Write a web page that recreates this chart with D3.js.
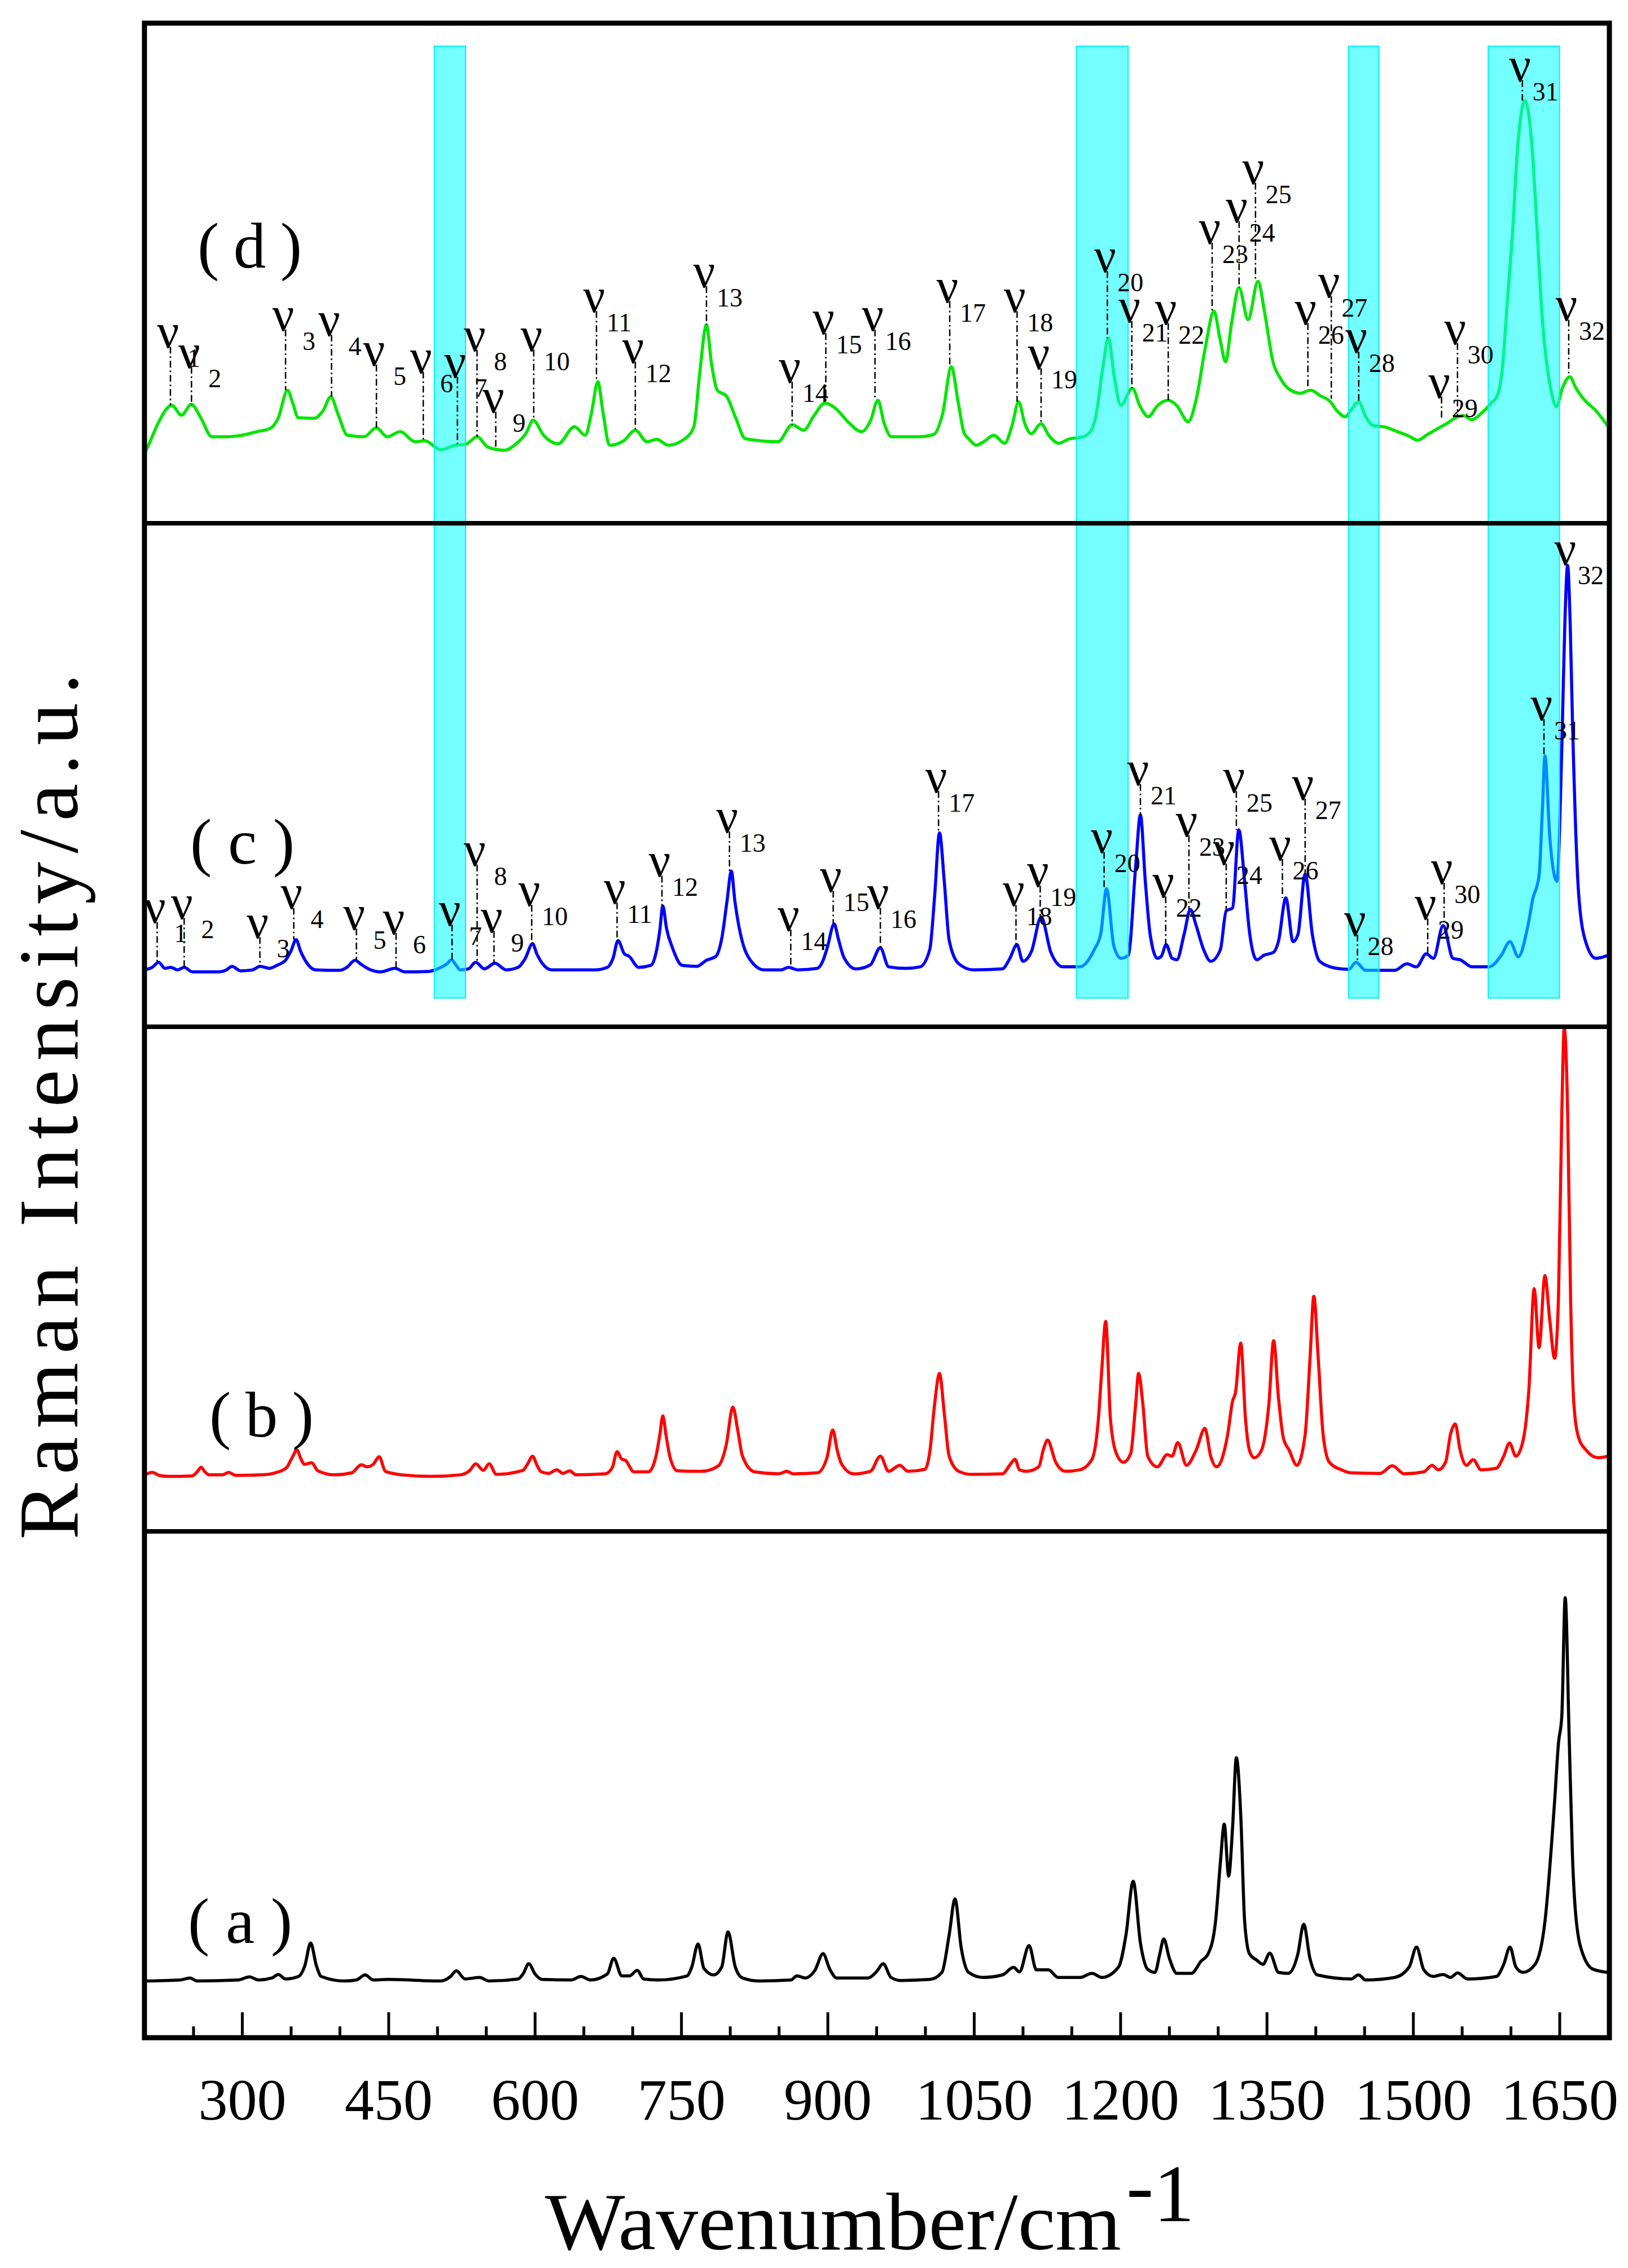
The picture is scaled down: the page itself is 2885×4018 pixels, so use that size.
<!DOCTYPE html>
<html lang="en">
<head>
    <meta charset="UTF-8">
    <title>Raman spectra</title>
    <script src="https://d3js.org/d3.v7.min.js"></script>
    <style>
        body { margin: 0; background: #fff; }
        text { font-family: "Liberation Serif", "Times New Roman", serif; fill: #000; }
    </style>
</head>
<body>
    <svg width="2885" height="4018"></svg>
    <script>
        // x axis ticks (cm-1)
        const majorTicks = [300, 450, 600, 750, 900, 1050, 1200, 1350, 1500, 1650];
        const minorTicks = d3.range(250, 1701, 50).filter(v => !majorTicks.includes(v));

        // panel letters, bottom to top
        const panelNames = ["(a)", "(b)", "(c)", "(d)"];

        // highlighted regions [from, to] in cm-1
        const bands = [[497, 529], [1155, 1208], [1434, 1465], [1577, 1650]];

        // spectra, [wavenumber, intensity] (intensity in % of panel height)
        const specA = [[200,11.2],[236.8,11.4],[246.6,11.8],[254.1,11.2],[296.1,11.4],[307.5,12.0],[316.9,11.4],[330.7,11.8],[337.1,12.5],[344.6,11.6],[357.9,12.1],[364.3,14.2],[370.3,18.7],[376.2,14.2],[381.1,12.1],[404.9,11.2],[417,11.4],[426.1,12.4],[434.5,11.4],[449.4,11.5],[503.8,11.2],[513.7,12.1],[519.6,13.2],[528.5,11.6],[543.3,11.9],[553.2,11.2],[582.9,11.6],[588,12.6],[593.8,14.6],[600.2,12.6],[607.6,11.5],[637.3,11.4],[647.2,12.1],[657.1,11.4],[674.4,12.6],[680.8,15.7],[689.2,12.2],[697,12.2],[705,13.3],[711.5,11.6],[726.3,11.4],[756,12.2],[760.9,14.0],[767.3,18.5],[773.3,13.7],[783.2,12.4],[791.6,14.0],[798,20.9],[805.4,14.0],[812.8,11.8],[830.2,11.2],[862.3,11.4],[868.7,12.2],[877.1,11.8],[887,13.3],[895.4,16.6],[901.9,13.7],[909.3,11.8],[941.4,11.8],[950,13],[957,14.6],[965,11.9],[975,11.3],[1004.8,11.5],[1017.2,12.9],[1024.6,20.3],[1030.6,27.4],[1037,17.7],[1044.5,12.9],[1059.4,11.9],[1079.2,12.4],[1090.6,13.9],[1096.6,13.0],[1106.5,18.2],[1113.9,13.4],[1126.3,13.4],[1136.3,11.9],[1158.6,11.9],[1171,12.7],[1181,11.9],[1198.3,14.0],[1205.8,20.3],[1213.2,30.9],[1220.6,18.7],[1228.1,13.5],[1235.5,12.9],[1240.5,16.6],[1244.5,19.5],[1250.4,15.6],[1257.9,12.7],[1272.8,12.7],[1282.7,15.1],[1290.1,16.6],[1297.6,23.0],[1302.5,34.5],[1306.5,42.2],[1311,31.9],[1315,41.4],[1318.9,55.3],[1323.4,44.0],[1327.4,23.0],[1332.3,16.6],[1339.8,15.3],[1346.2,14.5],[1353.2,16.7],[1362.1,12.9],[1372,12.7],[1382,16.6],[1387.9,22.4],[1394.4,15.6],[1401.8,12.4],[1436.5,11.6],[1444,12.4],[1451.4,11.4],[1481.2,11.9],[1496.1,14.0],[1503.5,17.9],[1511,13.4],[1520.9,12.1],[1530.8,12.5],[1538.3,11.9],[1545.7,12.8],[1555.6,11.6],[1585.4,12.1],[1592.9,14.5],[1599.3,17.9],[1605.3,14.0],[1612.7,12.9],[1625.1,14.5],[1635.1,22.9],[1645,46.6],[1649,58.2],[1652.4,63.5],[1655.9,86.9],[1659.9,59.8],[1663.3,36.1],[1667.3,23.0],[1674.8,16.1],[1684.7,13.5],[1699.6,12.9]];

        const specB = [[200,11.2],[208,11.7],[215,11.1],[224.4,10.9],[249,11.0],[254,11.8],[258,12.7],[262,11.8],[266.4,11.2],[280,11.2],[286.2,11.7],[293.6,11.1],[320.8,11.2],[335.7,11.7],[345.5,12.6],[351,14.5],[356.4,16.1],[360,14.5],[364,13.3],[371.3,13.6],[377.7,12.0],[395,11.2],[412.3,11.6],[422.2,13.2],[428,12.8],[434.5,13.3],[440.5,14.8],[446.9,11.9],[464.2,11.2],[493.9,10.9],[523.6,11.2],[533.5,12.1],[539.4,13.4],[547.3,12.1],[553.2,13.4],[560.6,11.3],[587.8,12.1],[593,13.5],[597.7,14.9],[602,13.2],[606.6,11.8],[614,11.5],[622.5,12.2],[628.9,11.5],[635.8,12.0],[642.2,11.2],[671.9,11.4],[679.3,12.6],[684.3,15.8],[689.2,14.3],[692.7,14.1],[701.6,11.8],[716.4,11.8],[723.8,14.6],[728,19],[731.2,22.9],[734.5,19],[738.7,14.6],[746.1,12.0],[770.8,11.9],[788.1,13.0],[796,17],[803,24.6],[808,20],[812.8,14.9],[825.2,11.8],[850,11.4],[858.4,11.9],[864.8,11.4],[889.5,11.6],[899.4,14.6],[905.3,20.1],[910,16],[914.2,13.4],[926.6,11.4],[943.9,11.9],[954.1,14.9],[962.6,11.9],[974,13.1],[982.4,11.9],[999.8,12.3],[1004.8,15.8],[1009.7,25.2],[1014.7,31.3],[1019.6,23.4],[1024.6,14.9],[1034.5,11.9],[1047,11.3],[1079.2,11.4],[1086.6,13.1],[1092.1,14.3],[1096.6,12.2],[1104,11.9],[1116.4,12.8],[1121.4,16.4],[1125.4,18.1],[1133.8,13.7],[1143.7,11.9],[1158.6,12.2],[1171,14.3],[1177.5,22.2],[1181,32],[1185,41.6],[1189.9,22.2],[1195.8,15.5],[1203.3,13.7],[1210.7,15.5],[1215.7,25.2],[1218.7,31.3],[1223.1,25.2],[1228.1,14.9],[1238,12.8],[1248,15.2],[1253,14.9],[1258.9,17.6],[1267.8,13.1],[1277.7,16.1],[1286.7,20.4],[1292.6,14.9],[1298.6,12.8],[1310,19.2],[1315,25.8],[1318,27.5],[1323.4,37.3],[1328.3,22.2],[1332.3,16.1],[1337.3,14.6],[1344.7,16.1],[1352.2,25.2],[1357.1,37.8],[1362.1,26.4],[1367.1,18.5],[1373,16.1],[1380.9,13.1],[1389.4,19.2],[1394.4,34.3],[1398.3,46.6],[1402.8,34.3],[1407.8,19.2],[1414.2,13.7],[1426.6,12.2],[1436.5,11.6],[1466.3,11.5],[1478.7,13.0],[1491.1,11.4],[1511,11.8],[1519.4,13.1],[1525.9,12.2],[1533.3,13.7],[1538.3,19.2],[1543.2,21.3],[1548.2,16.1],[1554.7,13.1],[1561.6,14.2],[1569.6,12.2],[1585.2,12.5],[1592.9,14.9],[1598.8,17.5],[1605.3,14.9],[1612.7,18.0],[1618.7,28.2],[1624.1,48.1],[1629.1,36.4],[1635.1,50.7],[1640,42],[1645,34.3],[1649,46.4],[1652.4,82.8],[1654.9,99.8],[1658.4,82.8],[1661.4,46.4],[1664.8,25.2],[1669.8,18.5],[1677.3,16.1],[1689.6,14.6],[1700,14.9]];

        const specC = [[200,11.3],[208,11.8],[214.5,12.8],[221,11.6],[227,11.8],[234,11.3],[240.7,11.8],[249,10.9],[276,10.9],[284,11.3],[289.7,12.0],[298.6,11.1],[311,11.3],[318.3,12.0],[328,11.6],[335.7,12.2],[344.5,13.2],[350,15],[355.4,17.3],[360,15],[365.3,13.0],[375.2,11.3],[400,11.2],[407.4,11.8],[415.8,13.2],[422,12.4],[429.6,11.5],[442,10.9],[456.8,11.6],[466.7,10.9],[491.4,11.0],[503.8,11.8],[510,12.5],[514.7,13.3],[519,12.3],[523.6,11.3],[532,11.5],[539.4,12.8],[548.3,11.5],[559.2,12.6],[570.5,11.3],[582.9,11.8],[590,13.5],[597.7,16.5],[602,14.5],[607.6,12.6],[617.5,11.3],[662,11.3],[674.4,11.8],[680,13.5],[685.3,17.1],[691.7,14.5],[696.6,14.0],[706.5,11.8],[718.9,12.2],[724,14.5],[728,19],[731.2,24.0],[735,19.5],[741.2,15.6],[751,12.2],[765.9,12.0],[775.8,13.2],[785.6,14.0],[792,18],[797,25],[801.4,30.9],[805,25],[809.4,19.7],[814,16],[820.3,13.4],[835.1,11.3],[852.4,11.3],[859.8,11.8],[869.7,11.3],[889.5,11.6],[895,13],[899.4,15.5],[906.8,20.4],[911,17.5],[916.7,13.8],[929,11.5],[943.9,12.3],[954,15.7],[962.6,11.9],[980,11.6],[994.8,11.9],[1004.8,15.4],[1009.7,25.9],[1014.7,38.5],[1019.6,28.9],[1024.6,17.2],[1034.5,12.5],[1049.4,11.3],[1079.2,11.5],[1086.6,13.5],[1094.1,16.3],[1100.1,13.0],[1109,15],[1118.9,21.8],[1128.8,14.8],[1141.2,11.9],[1158.6,11.9],[1173.5,15.4],[1180,18.5],[1185.9,27.4],[1193.4,16.0],[1200.8,13.6],[1208.2,14.2],[1215.7,31.8],[1220.6,42.1],[1225.6,28.9],[1230.6,18.3],[1238,13.6],[1242,14.0],[1247,16.3],[1253,13.6],[1257.9,13.3],[1265.3,18.3],[1271.8,23.3],[1277.7,20.1],[1285.2,15.4],[1292.6,13.0],[1302.5,15.3],[1308.5,23.0],[1315,23.6],[1321.4,39.1],[1327.4,28.9],[1332.3,18.9],[1339.8,13.3],[1347.2,14.2],[1357.1,14.8],[1362.1,17],[1369.6,25.6],[1377,16.9],[1382,18.3],[1389.4,30.3],[1396.8,18.3],[1404.3,13.0],[1421.6,11.6],[1434.1,11.4],[1441.5,12.8],[1451.4,11.2],[1481,11.2],[1493.6,12.5],[1503.5,11.9],[1513.5,14.5],[1520.9,13.6],[1530.8,20.1],[1540.8,13.6],[1548.2,13.3],[1560.6,11.9],[1578,11.9],[1590.4,14.2],[1599.3,16.9],[1607.8,13.9],[1617.7,20.1],[1622.7,25.4],[1629.1,30],[1632.6,43.5],[1635.1,53.8],[1640.1,37.7],[1647.4,28.9],[1652.4,55.3],[1655.5,80],[1658.4,91.6],[1661,80],[1663.3,61.1],[1669.8,26.0],[1677.3,16.6],[1687.2,13.6],[1700,14.2]];

        const specD = [[200,13.9],[205,16],[214,20],[228,23.6],[238,21.6],[248,23.8],[258,21],[269,17.3],[285,17.3],[300,17.6],[315,18.3],[329,19.0],[337,21],[346.6,26.6],[352,24],[357.6,21.1],[374,21.0],[383,22.5],[391,25.3],[398,22],[408,17.6],[425,17.3],[437.7,19.1],[448.7,17.3],[462,18.3],[477.5,16.3],[487,16.5],[504,14.7],[518,15.6],[529,15.8],[541,17.3],[552,15.2],[569,14.6],[581,15.9],[591,18],[598.4,20.6],[609,17.6],[624,15.9],[640.6,19.3],[651.7,17.6],[658,22],[664.6,28.3],[670,22],[676.6,15.6],[691,16.5],[703,18.6],[715,16.3],[725,16.8],[736.6,15.6],[753,16.8],[763,19.3],[769,30],[775.9,39.7],[781,32],[787,26.6],[796.5,25.4],[806,21],[815.7,16.9],[849.3,16.3],[863.7,19.7],[875.7,18.6],[886,21.5],[897.3,24.0],[908,23],[921.3,20.2],[934.8,18.3],[944,20.5],[951.6,24.6],[958,20],[965.4,17.3],[994,17.3],[1009,17.8],[1018,22],[1026.8,31.3],[1034,24],[1040,18],[1044.7,16.9],[1052.3,15.6],[1060,16.3],[1070.2,17.6],[1081.5,16.0],[1089,19.5],[1095.8,24.3],[1102,20],[1108.6,17.9],[1118.8,19.9],[1127,17.5],[1136.7,16.0],[1147,16.8],[1162,17.3],[1170,18.5],[1175,21.5],[1182,31],[1187.8,37.0],[1194,29],[1200.5,23.6],[1212.3,27.0],[1220,23.5],[1228.7,21.3],[1238,23.5],[1249,24.6],[1258,23.5],[1269.5,20.3],[1278,25],[1287,35],[1296,42.4],[1302,37],[1307.9,32.3],[1314,40],[1321.7,47.1],[1330.9,40.7],[1341.1,48.4],[1348,42],[1356.4,32.3],[1364,29],[1371.8,27.0],[1384.5,26.0],[1394.8,26.6],[1405,25.5],[1415.2,24.3],[1422,22.5],[1430.5,21.3],[1437,22.8],[1444.3,24.3],[1451,21.5],[1458.6,19.6],[1472,19.2],[1484.2,18.3],[1495,17.5],[1504.7,16.6],[1515,17.8],[1525,18.9],[1535,20],[1545.5,21.3],[1552,21.5],[1559.9,20.7],[1570,22],[1580,24],[1586.4,25.6],[1591.5,31],[1596.6,44.4],[1601.8,57.8],[1606.9,74.5],[1614.5,84.5],[1622.2,74.5],[1627.3,57.8],[1632.4,41],[1637.6,30.9],[1642,26],[1646.8,23.3],[1653,27],[1660.5,29.3],[1667,27],[1673.3,25.2],[1688.7,22.2],[1700,19.3]];

        // peak marks: [index, wavenumber, label height, peak height]
        const marksC = [[1,213,20.8,12.8],[2,240.7,21.6,11.8],[3,318.3,17.8,12.0],[4,353,23.6,17.3],[5,417.2,19.5,13.2],[6,457.8,18.6,11.6],[7,515.2,20.3,13.3],[8,540.9,32.2,12.8],[9,558.2,19.0,12.6],[10,596.8,24.2,16.5],[11,684.3,24.7,17.1],[12,730.3,30.0,24.0],[13,799.5,38.8,30.9],[14,862.3,19.3,11.8],[15,905.8,27.0,20.4],[16,954.1,23.6,15.7],[17,1013.7,46.8,38.5],[18,1093.1,24.2,16.3],[19,1117.9,28.0,21.8],[20,1183.4,34.7,27.4],[21,1220.6,48.2,42.1],[22,1246.5,25.9,16.3],[23,1270.3,38.0,23.3],[24,1308.5,32.4,23.0],[25,1318.9,46.8,39.1],[26,1366.1,33.3,25.6],[27,1389.4,45.3,30.3],[28,1443,18.3,12.8],[29,1515,21.5,14.5],[30,1531.8,28.6,20.1],[31,1634.1,61.1,53.8],[32,1658.4,91.9,91.6]];

        const marksD = [[1,226.6,35.3,23.6],[2,248.2,31.3,23.6],[3,344.6,38.7,26.6],[4,391.7,37.7,25.3],[5,437.7,31.7,19.1],[6,485.7,30.3,16.6],[7,520.7,29.3,15.9],[8,540.8,34.7,17.3],[9,560,22.3,14.9],[10,598.9,34.7,20.6],[11,663.2,42.4,28.3],[12,703,32.3,18.6],[13,775.9,47.4,39.7],[14,863.7,28.3,19.7],[15,898.2,38.0,24.0],[16,948.6,38.7,24.6],[17,1025.2,44.4,31.3],[18,1094.2,42.4,24.3],[19,1118.8,31.0,19.9],[20,1186.7,50.4,37.0],[21,1211.8,40.4,27.0],[22,1249.1,40.0,24.6],[23,1294.1,56.1,42.4],[24,1321.7,60.4,47.1],[25,1338.5,68.1,48.4],[26,1392.2,40.0,27.4],[27,1416.2,45.4,24.9],[28,1444.3,34.3,24.3],[29,1529.2,25.3,20.7],[30,1545.5,36.0,21.3],[31,1612,88.6,84.5],[32,1659.5,40.7,29.7]];

        const svg = d3.select("svg");

        // frame and panel edges (pixels), bottom to top
        const left = 256, right = 2852;
        const edges = [3610, 2713, 1819, 927, 41];

        const x = d3.scaleLinear().domain([200, 1700]).range([left, 2850]);
        const ys = panelNames.map((_, i) =>
            d3.scaleLinear().domain([0, 100]).range([edges[i], edges[i + 1]]));

        // spectra
        const spectra = [
            { data: specA, color: "#000000" },
            { data: specB, color: "#ff0000" },
            { data: specC, color: "#0000ff" },
            { data: specD, color: "#00e600" }
        ];
        spectra.forEach((s, i) => {
            const line = d3.line()
                .x(d => x(d[0]))
                .y(d => ys[i](d[1]))
                .curve(d3.curveMonotoneX);
            svg.append("path")
                .datum(s.data)
                .attr("d", line)
                .attr("fill", "none")
                .attr("stroke", s.color)
                .attr("stroke-width", 5.5)
                .attr("stroke-linejoin", "round");
        });

        // cyan bands over panels (d) and (c)
        svg.selectAll(".band")
            .data(bands)
            .join("rect")
            .attr("class", "band")
            .attr("x", d => x(d[0]))
            .attr("width", d => x(d[1]) - x(d[0]))
            .attr("y", ys[3](95.4))
            .attr("height", ys[2](5.7) - ys[3](95.4))
            .attr("fill", "#00ffff")
            .attr("fill-opacity", 0.55)
            .attr("stroke", "#00f0f0")
            .attr("stroke-width", 2);

        // peak marks
        function drawMarks(marks, yScale) {
            const g = svg.append("g");
            g.selectAll("line")
                .data(marks)
                .join("line")
                .attr("x1", d => x(d[1]))
                .attr("x2", d => x(d[1]))
                .attr("y1", d => yScale(d[2]))
                .attr("y2", d => yScale(d[3]))
                .attr("stroke", "#000")
                .attr("stroke-width", 2.5)
                .attr("stroke-dasharray", "12,5,3,5");
            g.selectAll(".nu")
                .data(marks)
                .join("text")
                .attr("class", "nu")
                .attr("x", d => x(d[1]) - 4)
                .attr("y", d => yScale(d[2]) + 2)
                .attr("text-anchor", "middle")
                .attr("font-size", 86)
                .text("ν");
            g.selectAll(".sub")
                .data(marks)
                .join("text")
                .attr("class", "sub")
                .attr("x", d => x(d[1]) + (d[0] < 10 ? 30 : 18))
                .attr("y", d => yScale(d[2]) + 36)
                .attr("font-size", 46)
                .text(d => d[0]);
        }
        drawMarks(marksC, ys[2]);
        drawMarks(marksD, ys[3]);

        // panel letters
        const letterPos = [[333, 3442], [371, 2545], [337, 1530], [350, 474]];
        svg.selectAll(".panel-name")
            .data(panelNames)
            .join("text")
            .attr("class", "panel-name")
            .attr("x", (d, i) => letterPos[i][0])
            .attr("y", (d, i) => letterPos[i][1])
            .attr("font-size", 115)
            .attr("textLength", 185)
            .attr("lengthAdjust", "spacing")
            .text(d => d);

        // bottom axis with inward ticks
        const axis = svg.append("g")
            .attr("transform", `translate(0, ${edges[0]})`)
            .call(d3.axisBottom(x).tickValues(majorTicks).tickSize(-45).tickPadding(71).tickFormat(d3.format("d")));
        axis.select(".domain").remove();
        axis.selectAll(".tick line").attr("stroke-width", 5);
        axis.selectAll(".tick text")
            .attr("font-family", "Liberation Serif")
            .attr("font-size", 104);

        const minor = svg.append("g")
            .attr("transform", `translate(0, ${edges[0]})`)
            .call(d3.axisBottom(x).tickValues(minorTicks).tickSize(-20).tickFormat(""));
        minor.select(".domain").remove();
        minor.selectAll(".tick line").attr("stroke-width", 5);

        // frame and separators
        svg.append("rect")
            .attr("x", left)
            .attr("y", edges[4])
            .attr("width", right - left)
            .attr("height", edges[0] - edges[4])
            .attr("fill", "none")
            .attr("stroke", "#000")
            .attr("stroke-width", 9);
        svg.selectAll(".sep")
            .data(edges.slice(1, 4))
            .join("line")
            .attr("class", "sep")
            .attr("x1", left)
            .attr("x2", right)
            .attr("y1", d => d)
            .attr("y2", d => d)
            .attr("stroke", "#000")
            .attr("stroke-width", 8);

        // axis titles
        svg.append("text")
            .attr("x", 966)
            .attr("y", 3985)
            .attr("font-size", 145)
            .attr("textLength", 1021)
            .attr("lengthAdjust", "spacingAndGlyphs")
            .text("Wavenumber/cm");
        const sup = svg.append("text")
            .attr("x", 1996)
            .attr("y", 3935)
            .attr("font-size", 145);
        sup.append("tspan").attr("dy", -14).text("-");
        sup.append("tspan").attr("dy", 14).text("1");

        svg.append("text")
            .attr("transform", "translate(137, 1960) rotate(-90)")
            .attr("text-anchor", "middle")
            .attr("font-size", 150)
            .attr("textLength", 1535)
            .attr("lengthAdjust", "spacing")
            .text("Raman Intensity/a.u.");
    </script>
</body>
</html>
